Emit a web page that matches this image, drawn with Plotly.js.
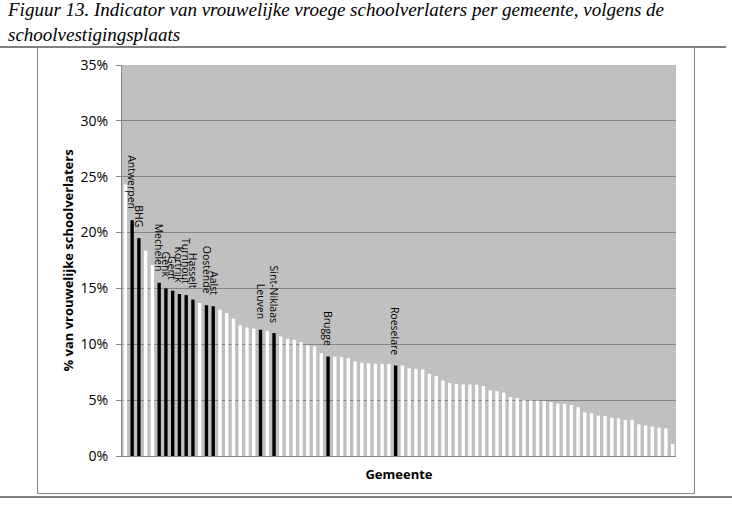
<!DOCTYPE html>
<html>
<head>
<meta charset="utf-8">
<script src="https://cdn.plot.ly/plotly-3.0.1.min.js"></script>
<style>html,body{margin:0;padding:0;background:#fff;}#chart{width:732px;height:505px;}</style>
</head>
<body>
<div id="chart"></div>
<script>
// Municipality labels (only the highlighted ones carry a name)
const gemeenten = [
  "", "Antwerpen", "BHG", "", "", "Mechelen", "Genk", "Gent", "Kortrijk", "Turnhout",
  "Hasselt", "", "Oostende", "Aalst", "", "", "", "", "", "",
  "Leuven", "", "Sint-Niklaas", "", "", "", "", "", "", "",
  "Brugge", "", "", "", "", "", "", "", "", "",
  "Roeselare", "", "", "", "", "", "", "", "", "",
  "", "", "", "", "", "", "", "", "", "",
  "", "", "", "", "", "", "", "", "", "",
  "", "", "", "", "", "", "", "", "", "",
  "", ""
];
// Share of female early school leavers (%)
const waarden = [
  24.3, 21.1, 19.5, 18.4, 17.1, 15.5, 15.0, 14.8, 14.5, 14.4,
  14.0, 13.7, 13.5, 13.4, 13.1, 12.8, 12.3, 11.7, 11.5, 11.4,
  11.3, 11.2, 11.0, 10.7, 10.5, 10.4, 10.2, 9.9, 9.8, 9.2,
  8.9, 8.9, 8.85, 8.75, 8.45, 8.35, 8.3, 8.25, 8.25, 8.25,
  8.1, 8.1, 7.85, 7.8, 7.75, 7.35, 7.15, 6.75, 6.55, 6.45,
  6.4, 6.4, 6.38, 6.27, 5.88, 5.8, 5.67, 5.28, 5.2, 5.0,
  4.97, 4.95, 4.92, 4.83, 4.68, 4.66, 4.57, 4.39, 3.91, 3.82,
  3.61, 3.58, 3.43, 3.37, 3.22, 3.22, 2.84, 2.72, 2.63, 2.54,
  2.48, 1.07
];
const yTicks = [0, 5, 10, 15, 20, 25, 30, 35];
const yTickLabels = ["0%", "5%", "10%", "15%", "20%", "25%", "30%", "35%"];

const W = 732, H = 505;
const M = {l: 122, r: 56, t: 65, b: 49};
const PW = W - M.l - M.r, PH = H - M.t - M.b;
const px = x => (x - M.l) / PW;
const py = y => (H - M.b - y) / PH;

const xIdx = waarden.map((v, i) => i);
const kleuren = gemeenten.map(n => n ? "#000000" : "#ffffff");

const trace = {
  type: "bar",
  x: xIdx,
  y: waarden,
  marker: {color: kleuren, line: {width: 0}},
  hoverinfo: "skip"
};

const labelAnn = [];
gemeenten.forEach((n, i) => {
  if (!n) return;
  labelAnn.push({
    x: i, y: waarden[i], xref: "x", yref: "y",
    text: n, showarrow: false, textangle: 90,
    xanchor: "center", yanchor: "bottom", yshift: 9,
    font: {family: "Open Sans, sans-serif", size: 10.5, color: "#000"}
  });
});

const layout = {
  width: W, height: H,
  margin: M,
  paper_bgcolor: "#ffffff",
  plot_bgcolor: "#c0c0c0",
  showlegend: false,
  bargap: 0.5,
  font: {family: "Open Sans, sans-serif", color: "#000"},
  xaxis: {
    range: [-0.5, waarden.length - 0.5],
    showticklabels: false, ticks: "", showgrid: false, zeroline: false,
    showline: true, linecolor: "#868686", linewidth: 1,
    title: {text: "Gemeente", font: {size: 13, family: "Open Sans, sans-serif", weight: "bold"}, standoff: 13},
    fixedrange: true
  },
  yaxis: {
    range: [0, 35],
    tickvals: yTicks, ticktext: yTickLabels,
    ticks: "outside", ticklen: 5, tickcolor: "#868686",
    ticklabelstandoff: 5,
    tickfont: {size: 14, family: "Open Sans, sans-serif"},
    showgrid: true, gridcolor: "#868686", gridwidth: 1,
    zeroline: false, showline: true, linecolor: "#868686", linewidth: 1,
    title: {text: "% van vrouwelijke schoolverlaters", font: {size: 13, family: "Open Sans, sans-serif", weight: "bold"}, standoff: 4},
    fixedrange: true
  },
  annotations: labelAnn.concat([{
    xref: "paper", yref: "paper", x: px(6), y: py(-2),
    xanchor: "left", yanchor: "top", align: "left", showarrow: false, borderpad: 0,
    text: "<i>Figuur 13. Indicator van vrouwelijke vroege schoolverlaters per gemeente, volgens de<br>schoolvestigingsplaats</i>",
    font: {family: "Liberation Serif, serif", size: 19, color: "#000"}
  }]),
  shapes: [
    {type: "line", xref: "paper", yref: "paper", x0: px(0), x1: px(726), y0: py(47), y1: py(47), line: {color: "#000", width: 1.2}},
    {type: "line", xref: "paper", yref: "paper", x0: px(0), x1: px(732), y0: py(497), y1: py(497), line: {color: "#000", width: 1.2}},
    {type: "rect", xref: "paper", yref: "paper", x0: px(37.5), x1: px(694.5), y0: py(47), y1: py(493.5), line: {color: "#868686", width: 1}}
  ]
};

Plotly.newPlot("chart", [trace], layout, {displayModeBar: false, staticPlot: true});
</script>
</body>
</html>
